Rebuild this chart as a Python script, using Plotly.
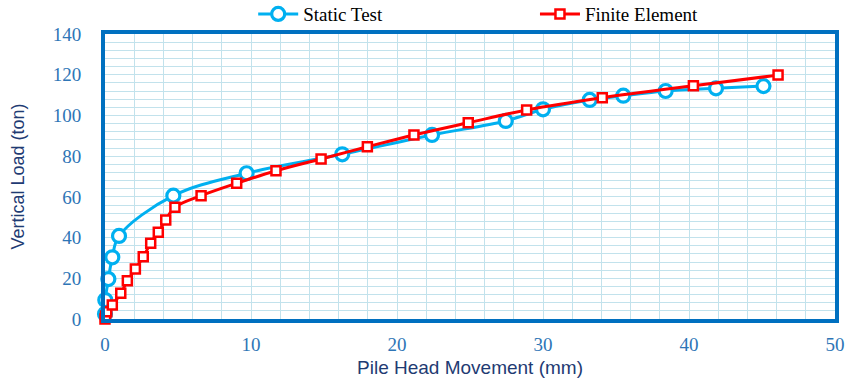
import plotly.graph_objects as go

# Static test data (pile head movement mm, vertical load ton)
static_x = [0.0, 0.02, 0.23, 0.5, 0.96, 4.68, 9.7, 16.25, 22.4, 27.45, 30.0, 33.2, 35.5, 38.4, 41.85, 45.1]
static_y = [2.5, 9.3, 19.6, 30.3, 40.8, 60.6, 71.6, 80.9, 90.4, 97.3, 103.0, 107.6, 109.7, 112.0, 113.3, 114.4]

# Finite element data
fe_x = [0.0, 0.04, 0.12, 0.5, 1.08, 1.53, 2.08, 2.62, 3.13, 3.65, 4.16, 4.79, 6.58, 9.02, 11.71,
        14.8, 17.97, 21.16, 24.88, 28.88, 34.06, 40.3, 46.1]
fe_y = [0.0, 1.5, 3.6, 6.9, 12.6, 18.8, 24.6, 30.6, 37.2, 42.6, 48.6, 54.9, 60.6, 66.7, 72.8,
        78.6, 84.6, 90.4, 96.4, 102.7, 108.7, 114.6, 119.8]

x_ticks = [0, 10, 20, 30, 40, 50]
y_ticks = [0, 20, 40, 60, 80, 100, 120, 140]

frame_col = "#0070C0"
grid_col = "#C2E2EC"
tick_col = "#2E75B6"
title_col = "#1F3B73"

fig = go.Figure()
fig.add_trace(go.Scatter(
    x=static_x, y=static_y, name="Static Test", mode="lines+markers",
    line=dict(color="#00B0F0", width=3, shape="spline", smoothing=1.0),
    marker=dict(symbol="circle", size=13, color="white", line=dict(color="#00B0F0", width=3.2)),
    cliponaxis=False, legend="legend",
))
fig.add_trace(go.Scatter(
    x=fe_x, y=fe_y, name="Finite Element", mode="lines+markers",
    line=dict(color="#FF0000", width=3, shape="spline", smoothing=1.0),
    marker=dict(symbol="square", size=9, color="white", line=dict(color="#FF0000", width=2.5)),
    cliponaxis=False, legend="legend2",
))

legend_font = dict(family="Liberation Serif", size=19, color="black")
fig.update_layout(
    width=847, height=381,
    margin=dict(l=105, r=12, t=34, b=62, autoexpand=False),
    paper_bgcolor="white", plot_bgcolor="white",
    showlegend=True,
    legend=dict(
        orientation="h", x=0.203, xanchor="left", y=1.07, yanchor="middle",
        font=legend_font, bgcolor="rgba(0,0,0,0)", itemwidth=40,
    ),
    legend2=dict(
        orientation="h", x=0.589, xanchor="left", y=1.07, yanchor="middle",
        font=legend_font, bgcolor="rgba(0,0,0,0)", itemwidth=40,
    ),
    xaxis=dict(
        range=[0, 50], tickvals=x_ticks, ticktext=[str(v) for v in x_ticks],
        showgrid=True, gridcolor=grid_col, gridwidth=1.2,
        minor=dict(dtick=2, tick0=0, showgrid=True, gridcolor=grid_col, gridwidth=1.2),
        showline=True, linecolor=frame_col, linewidth=4, mirror=True,
        ticks="", zeroline=False, ticklabelstandoff=5,
        tickfont=dict(family="Liberation Serif", size=19, color=tick_col),
        title=dict(text="Pile Head Movement (mm)", standoff=8,
                   font=dict(family="Liberation Sans", size=19, color=title_col)),
    ),
    yaxis=dict(
        range=[0, 140], tickvals=y_ticks, ticktext=[str(v) for v in y_ticks],
        showgrid=True, gridcolor=grid_col, gridwidth=1.2,
        minor=dict(dtick=4, tick0=0, showgrid=True, gridcolor=grid_col, gridwidth=1.2),
        showline=True, linecolor=frame_col, linewidth=4, mirror=True,
        ticks="", zeroline=False, ticklabelstandoff=16,
        tickfont=dict(family="Liberation Serif", size=19, color=tick_col),
        title=dict(text="Vertical Load (ton)", standoff=24,
                   font=dict(family="Liberation Sans", size=18, color=title_col)),
    ),
)

fig.write_html("out.html")
